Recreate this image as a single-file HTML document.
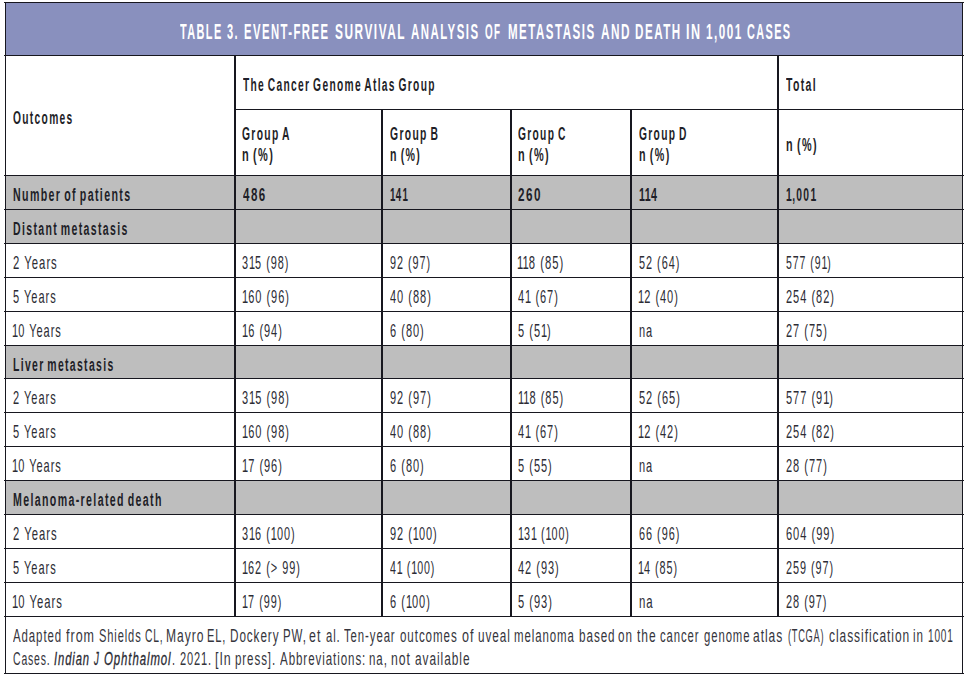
<!DOCTYPE html>
<html><head><meta charset="utf-8"><style>
html,body{margin:0;padding:0;background:#fff;width:966px;height:676px;overflow:hidden;}
body{position:relative;font-family:"Liberation Sans",sans-serif;}
.r{position:absolute;}
.t{position:absolute;white-space:nowrap;transform-origin:0 0;}
</style></head><body>
<div class="r" style="left:5px;top:2px;width:957px;height:53px;background:#8990be"></div>
<div class="r" style="left:5px;top:175px;width:957px;height:34px;background:#bebebe"></div>
<div class="r" style="left:5px;top:209px;width:957px;height:34px;background:#bebebe"></div>
<div class="r" style="left:5px;top:345px;width:957px;height:33px;background:#bebebe"></div>
<div class="r" style="left:5px;top:480px;width:957px;height:34px;background:#bebebe"></div>
<div class="r" style="left:4px;top:2px;width:960px;height:1px;background:#17171f"></div>
<div class="r" style="left:4px;top:55px;width:960px;height:1px;background:#17171f"></div>
<div class="r" style="left:4px;top:175px;width:960px;height:1px;background:#17171f"></div>
<div class="r" style="left:4px;top:209px;width:960px;height:1px;background:#17171f"></div>
<div class="r" style="left:4px;top:243px;width:960px;height:1px;background:#17171f"></div>
<div class="r" style="left:4px;top:277px;width:960px;height:1px;background:#17171f"></div>
<div class="r" style="left:4px;top:311px;width:960px;height:1px;background:#17171f"></div>
<div class="r" style="left:4px;top:345px;width:960px;height:1px;background:#17171f"></div>
<div class="r" style="left:4px;top:378px;width:960px;height:1px;background:#17171f"></div>
<div class="r" style="left:4px;top:412px;width:960px;height:1px;background:#17171f"></div>
<div class="r" style="left:4px;top:446px;width:960px;height:1px;background:#17171f"></div>
<div class="r" style="left:4px;top:480px;width:960px;height:1px;background:#17171f"></div>
<div class="r" style="left:4px;top:514px;width:960px;height:1px;background:#17171f"></div>
<div class="r" style="left:4px;top:548px;width:960px;height:1px;background:#17171f"></div>
<div class="r" style="left:4px;top:582px;width:960px;height:1px;background:#17171f"></div>
<div class="r" style="left:4px;top:616px;width:960px;height:1px;background:#17171f"></div>
<div class="r" style="left:4px;top:673px;width:960px;height:1px;background:#17171f"></div>
<div class="r" style="left:234px;top:109px;width:730px;height:1px;background:#17171f"></div>
<div class="r" style="left:5px;top:2px;width:1px;height:672px;background:#17171f"></div>
<div class="r" style="left:962px;top:2px;width:1px;height:672px;background:#17171f"></div>
<div class="r" style="left:234px;top:55px;width:2px;height:561px;background:#17171f"></div>
<div class="r" style="left:777px;top:55px;width:2px;height:561px;background:#17171f"></div>
<div class="r" style="left:381px;top:109px;width:2px;height:507px;background:#17171f"></div>
<div class="r" style="left:510px;top:109px;width:2px;height:507px;background:#17171f"></div>
<div class="r" style="left:630px;top:109px;width:2px;height:507px;background:#17171f"></div>
<div class="t" style="left:179.80px;top:20.55px;line-height:21.8px;color:#ffffff;transform:scaleX(0.5012);font-size:21.8px;font-weight:bold;letter-spacing:2.8px;word-spacing:0px;">TABLE</div>
<div class="t" style="left:227.09px;top:20.55px;line-height:21.8px;color:#ffffff;transform:scaleX(0.5053);font-size:21.8px;font-weight:bold;letter-spacing:2.8px;word-spacing:0px;">3.</div>
<div class="t" style="left:243.96px;top:20.55px;line-height:21.8px;color:#ffffff;transform:scaleX(0.5182);font-size:21.8px;font-weight:bold;letter-spacing:2.8px;word-spacing:0px;">EVENT-FREE</div>
<div class="t" style="left:334.66px;top:20.55px;line-height:21.8px;color:#ffffff;transform:scaleX(0.5444);font-size:21.8px;font-weight:bold;letter-spacing:2.8px;word-spacing:0px;">SURVIVAL</div>
<div class="t" style="left:410.58px;top:20.55px;line-height:21.8px;color:#ffffff;transform:scaleX(0.5246);font-size:21.8px;font-weight:bold;letter-spacing:2.8px;word-spacing:0px;">ANALYSIS</div>
<div class="t" style="left:485.25px;top:20.55px;line-height:21.8px;color:#ffffff;transform:scaleX(0.4500);font-size:21.8px;font-weight:bold;letter-spacing:2.8px;word-spacing:0px;">OF</div>
<div class="t" style="left:507.54px;top:20.55px;line-height:21.8px;color:#ffffff;transform:scaleX(0.5306);font-size:21.8px;font-weight:bold;letter-spacing:2.8px;word-spacing:0px;">METASTASIS</div>
<div class="t" style="left:600.76px;top:20.55px;line-height:21.8px;color:#ffffff;transform:scaleX(0.5412);font-size:21.8px;font-weight:bold;letter-spacing:2.8px;word-spacing:0px;">AND</div>
<div class="t" style="left:635.03px;top:20.55px;line-height:21.8px;color:#ffffff;transform:scaleX(0.5333);font-size:21.8px;font-weight:bold;letter-spacing:2.8px;word-spacing:0px;">DEATH</div>
<div class="t" style="left:685.95px;top:20.55px;line-height:21.8px;color:#ffffff;transform:scaleX(0.5762);font-size:21.8px;font-weight:bold;letter-spacing:2.8px;word-spacing:0px;">IN</div>
<div class="t" style="left:705.86px;top:20.55px;line-height:21.8px;color:#ffffff;transform:scaleX(0.5375);font-size:21.8px;font-weight:bold;letter-spacing:2.8px;word-spacing:0px;">1,001</div>
<div class="t" style="left:746.90px;top:20.55px;line-height:21.8px;color:#ffffff;transform:scaleX(0.4988);font-size:21.8px;font-weight:bold;letter-spacing:2.8px;word-spacing:0px;">CASES</div>
<div class="t" style="left:12.73px;top:109.16px;line-height:18px;color:#1f1f28;transform:scaleX(0.5696);font-size:18px;font-weight:bold;letter-spacing:2.3px;word-spacing:-2.5px;">Outcomes</div>
<div class="t" style="left:242.80px;top:75.96px;line-height:18px;color:#1f1f28;transform:scaleX(0.5685);font-size:18px;font-weight:bold;letter-spacing:2.3px;word-spacing:-2.5px;">The Cancer Genome Atlas Group</div>
<div class="t" style="left:786.20px;top:75.96px;line-height:18px;color:#1f1f28;transform:scaleX(0.5820);font-size:18px;font-weight:bold;letter-spacing:2.3px;word-spacing:-2.5px;">Total</div>
<div class="t" style="left:242.23px;top:125.16px;line-height:18px;color:#1f1f28;transform:scaleX(0.5728);font-size:18px;font-weight:bold;letter-spacing:2.3px;word-spacing:-2.5px;">Group A</div>
<div class="t" style="left:242.19px;top:146.36px;line-height:18px;color:#1f1f28;transform:scaleX(0.6102);font-size:18px;font-weight:bold;letter-spacing:2.3px;word-spacing:-2.5px;">n (%)</div>
<div class="t" style="left:389.72px;top:125.16px;line-height:18px;color:#1f1f28;transform:scaleX(0.5753);font-size:18px;font-weight:bold;letter-spacing:2.3px;word-spacing:-2.5px;">Group B</div>
<div class="t" style="left:389.71px;top:146.36px;line-height:18px;color:#1f1f28;transform:scaleX(0.5898);font-size:18px;font-weight:bold;letter-spacing:2.3px;word-spacing:-2.5px;">n (%)</div>
<div class="t" style="left:518.13px;top:125.16px;line-height:18px;color:#1f1f28;transform:scaleX(0.5683);font-size:18px;font-weight:bold;letter-spacing:2.3px;word-spacing:-2.5px;">Group C</div>
<div class="t" style="left:518.09px;top:146.36px;line-height:18px;color:#1f1f28;transform:scaleX(0.6061);font-size:18px;font-weight:bold;letter-spacing:2.3px;word-spacing:-2.5px;">n (%)</div>
<div class="t" style="left:638.63px;top:125.16px;line-height:18px;color:#1f1f28;transform:scaleX(0.5691);font-size:18px;font-weight:bold;letter-spacing:2.3px;word-spacing:-2.5px;">Group D</div>
<div class="t" style="left:638.60px;top:146.36px;line-height:18px;color:#1f1f28;transform:scaleX(0.5959);font-size:18px;font-weight:bold;letter-spacing:2.3px;word-spacing:-2.5px;">n (%)</div>
<div class="t" style="left:785.60px;top:135.76px;line-height:18px;color:#1f1f28;transform:scaleX(0.6020);font-size:18px;font-weight:bold;letter-spacing:2.3px;word-spacing:-2.5px;">n (%)</div>
<div class="t" style="left:12.71px;top:185.76px;line-height:18px;color:#1f1f28;transform:scaleX(0.5913);font-size:18px;font-weight:bold;letter-spacing:2.3px;word-spacing:-2.5px;">Number of patients</div>
<div class="t" style="left:242.80px;top:185.76px;line-height:18px;color:#1f1f28;transform:scaleX(0.6412);font-size:18px;font-weight:bold;letter-spacing:2.3px;word-spacing:-2.5px;">486</div>
<div class="t" style="left:389.76px;top:185.76px;line-height:18px;color:#1f1f28;transform:scaleX(0.5400);font-size:18px;font-weight:bold;letter-spacing:2.3px;word-spacing:-2.5px;"><span style="letter-spacing:0.70px">1</span>4<span style="letter-spacing:0.70px">1</span></div>
<div class="t" style="left:518.05px;top:185.76px;line-height:18px;color:#1f1f28;transform:scaleX(0.6515);font-size:18px;font-weight:bold;letter-spacing:2.3px;word-spacing:-2.5px;">260</div>
<div class="t" style="left:638.61px;top:185.76px;line-height:18px;color:#1f1f28;transform:scaleX(0.5931);font-size:18px;font-weight:bold;letter-spacing:2.3px;word-spacing:-2.5px;"><span style="letter-spacing:0.70px">1</span><span style="letter-spacing:0.70px">1</span>4</div>
<div class="t" style="left:785.63px;top:185.76px;line-height:18px;color:#1f1f28;transform:scaleX(0.5725);font-size:18px;font-weight:bold;letter-spacing:2.3px;word-spacing:-2.5px;"><span style="letter-spacing:0.70px">1</span>,00<span style="letter-spacing:0.70px">1</span></div>
<div class="t" style="left:12.72px;top:219.76px;line-height:18px;color:#1f1f28;transform:scaleX(0.5845);font-size:18px;font-weight:bold;letter-spacing:2.3px;word-spacing:-2.5px;">Distant metastasis</div>
<div class="t" style="left:12.69px;top:253.76px;line-height:18.6px;color:#2c2c34;transform:scaleX(0.6086);font-size:18.6px;font-weight:normal;letter-spacing:1.6px;word-spacing:0.3px;">2 Years</div>
<div class="t" style="left:242.21px;top:253.76px;line-height:18.6px;color:#2c2c34;transform:scaleX(0.5857);font-size:18.6px;font-weight:normal;letter-spacing:1.6px;word-spacing:0.3px;">3<span style="letter-spacing:0.00px">1</span>5 (98)</div>
<div class="t" style="left:389.72px;top:253.76px;line-height:18.6px;color:#2c2c34;transform:scaleX(0.5821);font-size:18.6px;font-weight:normal;letter-spacing:1.6px;word-spacing:0.3px;">92 (97)</div>
<div class="t" style="left:517.49px;top:253.76px;line-height:18.6px;color:#2c2c34;transform:scaleX(0.6055);font-size:18.6px;font-weight:normal;letter-spacing:1.6px;word-spacing:0.3px;"><span style="letter-spacing:0.00px">1</span><span style="letter-spacing:0.00px">1</span>8 (85)</div>
<div class="t" style="left:638.61px;top:253.76px;line-height:18.6px;color:#2c2c34;transform:scaleX(0.5851);font-size:18.6px;font-weight:normal;letter-spacing:1.6px;word-spacing:0.3px;">52 (64)</div>
<div class="t" style="left:785.64px;top:253.76px;line-height:18.6px;color:#2c2c34;transform:scaleX(0.5649);font-size:18.6px;font-weight:normal;letter-spacing:1.6px;word-spacing:0.3px;">577 (9<span style="letter-spacing:0.00px">1</span>)</div>
<div class="t" style="left:12.71px;top:287.76px;line-height:18.6px;color:#2c2c34;transform:scaleX(0.5930);font-size:18.6px;font-weight:normal;letter-spacing:1.6px;word-spacing:0.3px;">5 Years</div>
<div class="t" style="left:241.61px;top:287.76px;line-height:18.6px;color:#2c2c34;transform:scaleX(0.5930);font-size:18.6px;font-weight:normal;letter-spacing:1.6px;word-spacing:0.3px;"><span style="letter-spacing:0.00px">1</span>60 (96)</div>
<div class="t" style="left:389.71px;top:287.76px;line-height:18.6px;color:#2c2c34;transform:scaleX(0.5930);font-size:18.6px;font-weight:normal;letter-spacing:1.6px;word-spacing:0.3px;">40 (88)</div>
<div class="t" style="left:518.11px;top:287.76px;line-height:18.6px;color:#2c2c34;transform:scaleX(0.5930);font-size:18.6px;font-weight:normal;letter-spacing:1.6px;word-spacing:0.3px;">4<span style="letter-spacing:0.00px">1</span> (67)</div>
<div class="t" style="left:638.01px;top:287.76px;line-height:18.6px;color:#2c2c34;transform:scaleX(0.5930);font-size:18.6px;font-weight:normal;letter-spacing:1.6px;word-spacing:0.3px;"><span style="letter-spacing:0.00px">1</span>2 (40)</div>
<div class="t" style="left:785.61px;top:287.76px;line-height:18.6px;color:#2c2c34;transform:scaleX(0.5930);font-size:18.6px;font-weight:normal;letter-spacing:1.6px;word-spacing:0.3px;">254 (82)</div>
<div class="t" style="left:12.11px;top:321.76px;line-height:18.6px;color:#2c2c34;transform:scaleX(0.5930);font-size:18.6px;font-weight:normal;letter-spacing:1.6px;word-spacing:0.3px;"><span style="letter-spacing:0.00px">1</span>0 Years</div>
<div class="t" style="left:241.61px;top:321.76px;line-height:18.6px;color:#2c2c34;transform:scaleX(0.5930);font-size:18.6px;font-weight:normal;letter-spacing:1.6px;word-spacing:0.3px;"><span style="letter-spacing:0.00px">1</span>6 (94)</div>
<div class="t" style="left:389.71px;top:321.76px;line-height:18.6px;color:#2c2c34;transform:scaleX(0.5930);font-size:18.6px;font-weight:normal;letter-spacing:1.6px;word-spacing:0.3px;">6 (80)</div>
<div class="t" style="left:518.11px;top:321.76px;line-height:18.6px;color:#2c2c34;transform:scaleX(0.5930);font-size:18.6px;font-weight:normal;letter-spacing:1.6px;word-spacing:0.3px;">5 (5<span style="letter-spacing:0.00px">1</span>)</div>
<div class="t" style="left:638.61px;top:321.76px;line-height:18.6px;color:#2c2c34;transform:scaleX(0.5930);font-size:18.6px;font-weight:normal;letter-spacing:1.6px;word-spacing:0.3px;">na</div>
<div class="t" style="left:785.61px;top:321.76px;line-height:18.6px;color:#2c2c34;transform:scaleX(0.5930);font-size:18.6px;font-weight:normal;letter-spacing:1.6px;word-spacing:0.3px;">27 (75)</div>
<div class="t" style="left:12.72px;top:355.76px;line-height:18px;color:#1f1f28;transform:scaleX(0.5789);font-size:18px;font-weight:bold;letter-spacing:2.3px;word-spacing:-2.5px;">Liver metastasis</div>
<div class="t" style="left:12.71px;top:388.76px;line-height:18.6px;color:#2c2c34;transform:scaleX(0.5930);font-size:18.6px;font-weight:normal;letter-spacing:1.6px;word-spacing:0.3px;">2 Years</div>
<div class="t" style="left:242.21px;top:388.76px;line-height:18.6px;color:#2c2c34;transform:scaleX(0.5930);font-size:18.6px;font-weight:normal;letter-spacing:1.6px;word-spacing:0.3px;">3<span style="letter-spacing:0.00px">1</span>5 (98)</div>
<div class="t" style="left:389.71px;top:388.76px;line-height:18.6px;color:#2c2c34;transform:scaleX(0.5930);font-size:18.6px;font-weight:normal;letter-spacing:1.6px;word-spacing:0.3px;">92 (97)</div>
<div class="t" style="left:517.51px;top:388.76px;line-height:18.6px;color:#2c2c34;transform:scaleX(0.5930);font-size:18.6px;font-weight:normal;letter-spacing:1.6px;word-spacing:0.3px;"><span style="letter-spacing:0.00px">1</span><span style="letter-spacing:0.00px">1</span>8 (85)</div>
<div class="t" style="left:638.61px;top:388.76px;line-height:18.6px;color:#2c2c34;transform:scaleX(0.5930);font-size:18.6px;font-weight:normal;letter-spacing:1.6px;word-spacing:0.3px;">52 (65)</div>
<div class="t" style="left:785.61px;top:388.76px;line-height:18.6px;color:#2c2c34;transform:scaleX(0.5930);font-size:18.6px;font-weight:normal;letter-spacing:1.6px;word-spacing:0.3px;">577 (9<span style="letter-spacing:0.00px">1</span>)</div>
<div class="t" style="left:12.71px;top:422.76px;line-height:18.6px;color:#2c2c34;transform:scaleX(0.5930);font-size:18.6px;font-weight:normal;letter-spacing:1.6px;word-spacing:0.3px;">5 Years</div>
<div class="t" style="left:241.61px;top:422.76px;line-height:18.6px;color:#2c2c34;transform:scaleX(0.5930);font-size:18.6px;font-weight:normal;letter-spacing:1.6px;word-spacing:0.3px;"><span style="letter-spacing:0.00px">1</span>60 (98)</div>
<div class="t" style="left:389.71px;top:422.76px;line-height:18.6px;color:#2c2c34;transform:scaleX(0.5930);font-size:18.6px;font-weight:normal;letter-spacing:1.6px;word-spacing:0.3px;">40 (88)</div>
<div class="t" style="left:518.11px;top:422.76px;line-height:18.6px;color:#2c2c34;transform:scaleX(0.5930);font-size:18.6px;font-weight:normal;letter-spacing:1.6px;word-spacing:0.3px;">4<span style="letter-spacing:0.00px">1</span> (67)</div>
<div class="t" style="left:638.01px;top:422.76px;line-height:18.6px;color:#2c2c34;transform:scaleX(0.5930);font-size:18.6px;font-weight:normal;letter-spacing:1.6px;word-spacing:0.3px;"><span style="letter-spacing:0.00px">1</span>2 (42)</div>
<div class="t" style="left:785.61px;top:422.76px;line-height:18.6px;color:#2c2c34;transform:scaleX(0.5930);font-size:18.6px;font-weight:normal;letter-spacing:1.6px;word-spacing:0.3px;">254 (82)</div>
<div class="t" style="left:12.11px;top:456.76px;line-height:18.6px;color:#2c2c34;transform:scaleX(0.5930);font-size:18.6px;font-weight:normal;letter-spacing:1.6px;word-spacing:0.3px;"><span style="letter-spacing:0.00px">1</span>0 Years</div>
<div class="t" style="left:241.61px;top:456.76px;line-height:18.6px;color:#2c2c34;transform:scaleX(0.5930);font-size:18.6px;font-weight:normal;letter-spacing:1.6px;word-spacing:0.3px;"><span style="letter-spacing:0.00px">1</span>7 (96)</div>
<div class="t" style="left:389.71px;top:456.76px;line-height:18.6px;color:#2c2c34;transform:scaleX(0.5930);font-size:18.6px;font-weight:normal;letter-spacing:1.6px;word-spacing:0.3px;">6 (80)</div>
<div class="t" style="left:518.11px;top:456.76px;line-height:18.6px;color:#2c2c34;transform:scaleX(0.5930);font-size:18.6px;font-weight:normal;letter-spacing:1.6px;word-spacing:0.3px;">5 (55)</div>
<div class="t" style="left:638.61px;top:456.76px;line-height:18.6px;color:#2c2c34;transform:scaleX(0.5930);font-size:18.6px;font-weight:normal;letter-spacing:1.6px;word-spacing:0.3px;">na</div>
<div class="t" style="left:785.61px;top:456.76px;line-height:18.6px;color:#2c2c34;transform:scaleX(0.5930);font-size:18.6px;font-weight:normal;letter-spacing:1.6px;word-spacing:0.3px;">28 (77)</div>
<div class="t" style="left:12.71px;top:490.76px;line-height:18px;color:#1f1f28;transform:scaleX(0.5892);font-size:18px;font-weight:bold;letter-spacing:2.3px;word-spacing:-2.5px;">Melanoma-related death</div>
<div class="t" style="left:12.69px;top:524.76px;line-height:18.6px;color:#2c2c34;transform:scaleX(0.6057);font-size:18.6px;font-weight:normal;letter-spacing:1.6px;word-spacing:0.3px;">2 Years</div>
<div class="t" style="left:242.21px;top:524.76px;line-height:18.6px;color:#2c2c34;transform:scaleX(0.5874);font-size:18.6px;font-weight:normal;letter-spacing:1.6px;word-spacing:0.3px;">3<span style="letter-spacing:0.00px">1</span>6 (<span style="letter-spacing:0.00px">1</span>00)</div>
<div class="t" style="left:389.71px;top:524.76px;line-height:18.6px;color:#2c2c34;transform:scaleX(0.5896);font-size:18.6px;font-weight:normal;letter-spacing:1.6px;word-spacing:0.3px;">92 (<span style="letter-spacing:0.00px">1</span>00)</div>
<div class="t" style="left:517.54px;top:524.76px;line-height:18.6px;color:#2c2c34;transform:scaleX(0.5788);font-size:18.6px;font-weight:normal;letter-spacing:1.6px;word-spacing:0.3px;"><span style="letter-spacing:0.00px">1</span>3<span style="letter-spacing:0.00px">1</span> (<span style="letter-spacing:0.00px">1</span>00)</div>
<div class="t" style="left:638.61px;top:524.76px;line-height:18.6px;color:#2c2c34;transform:scaleX(0.5851);font-size:18.6px;font-weight:normal;letter-spacing:1.6px;word-spacing:0.3px;">66 (96)</div>
<div class="t" style="left:785.60px;top:524.76px;line-height:18.6px;color:#2c2c34;transform:scaleX(0.5962);font-size:18.6px;font-weight:normal;letter-spacing:1.6px;word-spacing:0.3px;">604 (99)</div>
<div class="t" style="left:12.71px;top:558.76px;line-height:18.6px;color:#2c2c34;transform:scaleX(0.5930);font-size:18.6px;font-weight:normal;letter-spacing:1.6px;word-spacing:0.3px;">5 Years</div>
<div class="t" style="left:241.63px;top:558.76px;line-height:18.6px;color:#2c2c34;transform:scaleX(0.5865);font-size:18.6px;font-weight:normal;letter-spacing:1.6px;word-spacing:0.3px;"><span style="letter-spacing:0.00px">1</span>62 (&gt; 99)</div>
<div class="t" style="left:389.73px;top:558.76px;line-height:18.6px;color:#2c2c34;transform:scaleX(0.5724);font-size:18.6px;font-weight:normal;letter-spacing:1.6px;word-spacing:0.3px;">4<span style="letter-spacing:0.00px">1</span> (<span style="letter-spacing:0.00px">1</span>00)</div>
<div class="t" style="left:518.11px;top:558.76px;line-height:18.6px;color:#2c2c34;transform:scaleX(0.5925);font-size:18.6px;font-weight:normal;letter-spacing:1.6px;word-spacing:0.3px;">42 (93)</div>
<div class="t" style="left:638.04px;top:558.76px;line-height:18.6px;color:#2c2c34;transform:scaleX(0.5812);font-size:18.6px;font-weight:normal;letter-spacing:1.6px;word-spacing:0.3px;"><span style="letter-spacing:0.00px">1</span>4 (85)</div>
<div class="t" style="left:785.62px;top:558.76px;line-height:18.6px;color:#2c2c34;transform:scaleX(0.5835);font-size:18.6px;font-weight:normal;letter-spacing:1.6px;word-spacing:0.3px;">259 (97)</div>
<div class="t" style="left:12.09px;top:592.76px;line-height:18.6px;color:#2c2c34;transform:scaleX(0.6062);font-size:18.6px;font-weight:normal;letter-spacing:1.6px;word-spacing:0.3px;"><span style="letter-spacing:0.00px">1</span>0 Years</div>
<div class="t" style="left:241.63px;top:592.76px;line-height:18.6px;color:#2c2c34;transform:scaleX(0.5844);font-size:18.6px;font-weight:normal;letter-spacing:1.6px;word-spacing:0.3px;"><span style="letter-spacing:0.00px">1</span>7 (99)</div>
<div class="t" style="left:389.71px;top:592.76px;line-height:18.6px;color:#2c2c34;transform:scaleX(0.5923);font-size:18.6px;font-weight:normal;letter-spacing:1.6px;word-spacing:0.3px;">6 (<span style="letter-spacing:0.00px">1</span>00)</div>
<div class="t" style="left:518.10px;top:592.76px;line-height:18.6px;color:#2c2c34;transform:scaleX(0.5964);font-size:18.6px;font-weight:normal;letter-spacing:1.6px;word-spacing:0.3px;">5 (93)</div>
<div class="t" style="left:638.59px;top:592.76px;line-height:18.6px;color:#2c2c34;transform:scaleX(0.6143);font-size:18.6px;font-weight:normal;letter-spacing:1.6px;word-spacing:0.3px;">na</div>
<div class="t" style="left:785.61px;top:592.76px;line-height:18.6px;color:#2c2c34;transform:scaleX(0.5881);font-size:18.6px;font-weight:normal;letter-spacing:1.6px;word-spacing:0.3px;">28 (97)</div>
<div class="t" style="left:13.20px;top:627.89px;line-height:17.5px;color:#35353c;transform:scaleX(0.6542);font-size:17.5px;font-weight:normal;letter-spacing:1.4px;word-spacing:0px;">Adapted</div>
<div class="t" style="left:66.40px;top:627.89px;line-height:17.5px;color:#35353c;transform:scaleX(0.7147);font-size:17.5px;font-weight:normal;letter-spacing:1.4px;word-spacing:0px;">from</div>
<div class="t" style="left:98.67px;top:627.89px;line-height:17.5px;color:#35353c;transform:scaleX(0.6334);font-size:17.5px;font-weight:normal;letter-spacing:1.4px;word-spacing:0px;">Shields</div>
<div class="t" style="left:144.81px;top:627.89px;line-height:17.5px;color:#35353c;transform:scaleX(0.5875);font-size:17.5px;font-weight:normal;letter-spacing:1.4px;word-spacing:0px;">CL,</div>
<div class="t" style="left:166.42px;top:627.89px;line-height:17.5px;color:#35353c;transform:scaleX(0.6900);font-size:17.5px;font-weight:normal;letter-spacing:1.4px;word-spacing:0px;">Mayro</div>
<div class="t" style="left:207.43px;top:627.89px;line-height:17.5px;color:#35353c;transform:scaleX(0.6338);font-size:17.5px;font-weight:normal;letter-spacing:1.4px;word-spacing:0px;">EL,</div>
<div class="t" style="left:229.76px;top:627.89px;line-height:17.5px;color:#35353c;transform:scaleX(0.6686);font-size:17.5px;font-weight:normal;letter-spacing:1.4px;word-spacing:0px;">Dockery</div>
<div class="t" style="left:282.69px;top:627.89px;line-height:17.5px;color:#35353c;transform:scaleX(0.6568);font-size:17.5px;font-weight:normal;letter-spacing:1.4px;word-spacing:0px;">PW,</div>
<div class="t" style="left:309.39px;top:627.89px;line-height:17.5px;color:#35353c;transform:scaleX(0.7093);font-size:17.5px;font-weight:normal;letter-spacing:1.4px;word-spacing:0px;">et</div>
<div class="t" style="left:325.65px;top:627.89px;line-height:17.5px;color:#35353c;transform:scaleX(0.6468);font-size:17.5px;font-weight:normal;letter-spacing:1.4px;word-spacing:0px;">al.</div>
<div class="t" style="left:344.25px;top:627.89px;line-height:17.5px;color:#35353c;transform:scaleX(0.6504);font-size:17.5px;font-weight:normal;letter-spacing:1.4px;word-spacing:0px;">Ten-year</div>
<div class="t" style="left:400.24px;top:627.89px;line-height:17.5px;color:#35353c;transform:scaleX(0.6617);font-size:17.5px;font-weight:normal;letter-spacing:1.4px;word-spacing:0px;">outcomes</div>
<div class="t" style="left:461.68px;top:627.89px;line-height:17.5px;color:#35353c;transform:scaleX(0.7167);font-size:17.5px;font-weight:normal;letter-spacing:1.4px;word-spacing:0px;">of</div>
<div class="t" style="left:477.83px;top:627.89px;line-height:17.5px;color:#35353c;transform:scaleX(0.6729);font-size:17.5px;font-weight:normal;letter-spacing:1.4px;word-spacing:0px;">uveal</div>
<div class="t" style="left:514.05px;top:627.89px;line-height:17.5px;color:#35353c;transform:scaleX(0.6540);font-size:17.5px;font-weight:normal;letter-spacing:1.4px;word-spacing:0px;">melanoma</div>
<div class="t" style="left:578.63px;top:627.89px;line-height:17.5px;color:#35353c;transform:scaleX(0.6686);font-size:17.5px;font-weight:normal;letter-spacing:1.4px;word-spacing:0px;">based</div>
<div class="t" style="left:617.93px;top:627.89px;line-height:17.5px;color:#35353c;transform:scaleX(0.6674);font-size:17.5px;font-weight:normal;letter-spacing:1.4px;word-spacing:0px;">on</div>
<div class="t" style="left:637.20px;top:627.89px;line-height:17.5px;color:#35353c;transform:scaleX(0.6869);font-size:17.5px;font-weight:normal;letter-spacing:1.4px;word-spacing:0px;">the</div>
<div class="t" style="left:660.15px;top:627.89px;line-height:17.5px;color:#35353c;transform:scaleX(0.6479);font-size:17.5px;font-weight:normal;letter-spacing:1.4px;word-spacing:0px;">cancer</div>
<div class="t" style="left:703.65px;top:627.89px;line-height:17.5px;color:#35353c;transform:scaleX(0.6479);font-size:17.5px;font-weight:normal;letter-spacing:1.4px;word-spacing:0px;">genome</div>
<div class="t" style="left:753.41px;top:627.89px;line-height:17.5px;color:#35353c;transform:scaleX(0.6873);font-size:17.5px;font-weight:normal;letter-spacing:1.4px;word-spacing:0px;">atlas</div>
<div class="t" style="left:787.67px;top:627.89px;line-height:17.5px;color:#35353c;transform:scaleX(0.5282);font-size:17.5px;font-weight:normal;letter-spacing:1.4px;word-spacing:0px;">(TCGA)</div>
<div class="t" style="left:828.52px;top:627.89px;line-height:17.5px;color:#35353c;transform:scaleX(0.6833);font-size:17.5px;font-weight:normal;letter-spacing:1.4px;word-spacing:0px;">classification</div>
<div class="t" style="left:913.04px;top:627.89px;line-height:17.5px;color:#35353c;transform:scaleX(0.6631);font-size:17.5px;font-weight:normal;letter-spacing:1.4px;word-spacing:0px;">in</div>
<div class="t" style="left:928.02px;top:627.89px;line-height:17.5px;color:#35353c;transform:scaleX(0.5756);font-size:17.5px;font-weight:normal;letter-spacing:1.4px;word-spacing:0px;">1001</div>
<div class="t" style="left:13.00px;top:650.99px;line-height:17.5px;color:#35353c;transform:scaleX(0.5976);font-size:17.5px;font-weight:normal;letter-spacing:1.4px;word-spacing:0px;">Cases.</div>
<div class="t" style="left:53.96px;top:650.99px;line-height:17.5px;color:#2a2a32;transform:scaleX(0.6402);font-size:17.5px;font-weight:normal;letter-spacing:1.4px;word-spacing:0px;font-style:italic;-webkit-text-stroke:0.3px #2a2a32;">Indian</div>
<div class="t" style="left:93.70px;top:650.99px;line-height:17.5px;color:#2a2a32;transform:scaleX(0.5500);font-size:17.5px;font-weight:normal;letter-spacing:1.4px;word-spacing:0px;font-style:italic;-webkit-text-stroke:0.3px #2a2a32;">J</div>
<div class="t" style="left:103.65px;top:650.99px;line-height:17.5px;color:#2a2a32;transform:scaleX(0.6529);font-size:17.5px;font-weight:normal;letter-spacing:1.4px;word-spacing:0px;font-style:italic;-webkit-text-stroke:0.3px #2a2a32;">Ophthalmol</div>
<div class="t" style="left:172.06px;top:650.99px;line-height:17.5px;color:#35353c;transform:scaleX(0.6200);font-size:17.5px;font-weight:normal;letter-spacing:1.4px;word-spacing:0px;">.</div>
<div class="t" style="left:179.57px;top:650.99px;line-height:17.5px;color:#35353c;transform:scaleX(0.6311);font-size:17.5px;font-weight:normal;letter-spacing:1.4px;word-spacing:0px;">2021.</div>
<div class="t" style="left:214.89px;top:650.99px;line-height:17.5px;color:#35353c;transform:scaleX(0.7080);font-size:17.5px;font-weight:normal;letter-spacing:1.4px;word-spacing:0px;">[In</div>
<div class="t" style="left:234.84px;top:650.99px;line-height:17.5px;color:#35353c;transform:scaleX(0.6600);font-size:17.5px;font-weight:normal;letter-spacing:1.4px;word-spacing:0px;">press].</div>
<div class="t" style="left:279.70px;top:650.99px;line-height:17.5px;color:#35353c;transform:scaleX(0.6610);font-size:17.5px;font-weight:normal;letter-spacing:1.4px;word-spacing:0px;">Abbreviations:</div>
<div class="t" style="left:369.24px;top:650.99px;line-height:17.5px;color:#35353c;transform:scaleX(0.6580);font-size:17.5px;font-weight:normal;letter-spacing:1.4px;word-spacing:0px;">na,</div>
<div class="t" style="left:391.30px;top:650.99px;line-height:17.5px;color:#35353c;transform:scaleX(0.6977);font-size:17.5px;font-weight:normal;letter-spacing:1.4px;word-spacing:0px;">not</div>
<div class="t" style="left:415.02px;top:650.99px;line-height:17.5px;color:#35353c;transform:scaleX(0.6795);font-size:17.5px;font-weight:normal;letter-spacing:1.4px;word-spacing:0px;">available</div>
</body></html>
